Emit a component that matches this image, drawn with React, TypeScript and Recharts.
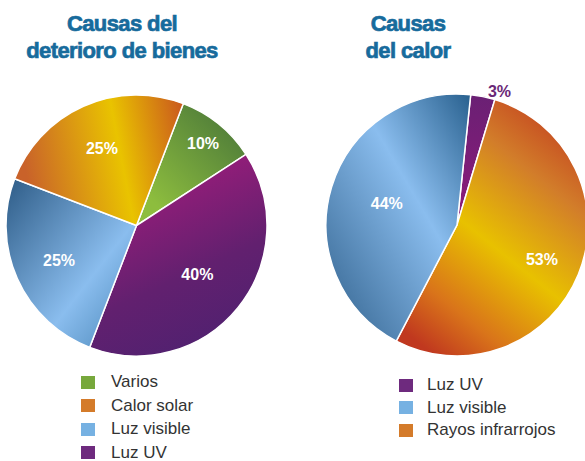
import { PieChart, Pie, Cell } from "recharts";

// ---------------------------------------------------------------------------
// Data
// ---------------------------------------------------------------------------

const leftTitle = ["Causas del", "deterioro de bienes"];
const rightTitle = ["Causas", "del calor"];

// slices listed clockwise, starting at the top
const leftNames = ["Varios", "Luz UV", "Luz visible", "Calor solar"];
const leftValues = [10, 40, 25, 25];

const rightNames = ["Luz UV", "Rayos infrarrojos", "Luz visible"];
const rightValues = [3, 53, 44];

const leftLegend = ["Varios", "Calor solar", "Luz visible", "Luz UV"];
const rightLegend = ["Luz UV", "Luz visible", "Rayos infrarrojos"];

// ---------------------------------------------------------------------------
// Styling
// ---------------------------------------------------------------------------

const FONT = "'Liberation Sans', Arial, Helvetica, sans-serif";
const TITLE_COLOR = "#176b9c";

const SWATCH: Record<string, string> = {
  Varios: "#77a83c",
  "Calor solar": "#d47b2a",
  "Luz visible": "#76b1e2",
  "Luz UV": "#6e2a7e",
  "Rayos infrarrojos": "#d47b2a",
};

// how far out the percentage sits, as a share of the radius
const leftLabelRadius: Record<string, number> = {
  Varios: 0.81,
  "Luz UV": 0.6,
  "Luz visible": 0.65,
  "Calor solar": 0.65,
};
const rightLabelRadius: Record<string, number> = {
  "Luz UV": 1.04,
  "Rayos infrarrojos": 0.7,
  "Luz visible": 0.56,
};

const gradId = (side: string, name: string) =>
  `${side}-${name.replace(/\s+/g, "-")}`;

const RAD = Math.PI / 180;

function makeLabel(ratios: Record<string, number>) {
  return (props: any) => {
    const { cx, cy, midAngle, outerRadius, name, value } = props;
    const ratio = ratios[name] ?? 0.65;
    const outside = ratio > 1;
    const r = outerRadius * ratio;
    const x = cx + r * Math.cos(-midAngle * RAD);
    const y = cy + r * Math.sin(-midAngle * RAD);
    return (
      <text
        x={outside ? x + 4 : x}
        y={y}
        fill={outside ? "#6a2877" : "#ffffff"}
        textAnchor={outside ? "start" : "middle"}
        dominantBaseline="central"
        fontSize={16}
        fontWeight="bold"
        fontFamily={FONT}
      >
        {`${value}%`}
      </text>
    );
  };
}

function Title({ lines, center }: { lines: string[]; center: number }) {
  return (
    <div
      style={{
        position: "absolute",
        top: 10,
        left: center - 150,
        width: 300,
        textAlign: "center",
        fontFamily: FONT,
        fontWeight: "bold",
        fontSize: 22,
        lineHeight: "27px",
        letterSpacing: -0.6,
        color: TITLE_COLOR,
        WebkitTextStroke: `0.7px ${TITLE_COLOR}`,
      }}
    >
      {lines.map((l) => (
        <div key={l}>{l}</div>
      ))}
    </div>
  );
}

function LegendBlock({
  items,
  left,
  top,
  step,
  textGap,
}: {
  items: string[];
  left: number;
  top: number;
  step: number;
  textGap: number;
}) {
  return (
    <>
      {items.map((name, i) => (
        <div
          key={name}
          style={{
            position: "absolute",
            left,
            top: top + i * step - 8,
            height: 16,
            lineHeight: "16px",
            display: "flex",
            alignItems: "center",
            fontFamily: FONT,
            fontSize: 17,
            color: "#333333",
            whiteSpace: "nowrap",
          }}
        >
          <span
            style={{
              display: "inline-block",
              width: 14,
              height: 13,
              background: SWATCH[name],
              marginRight: textGap,
            }}
          />
          {name}
        </div>
      ))}
    </>
  );
}

export default function App() {
  const leftData = leftNames.map((name, i) => ({ name, value: leftValues[i] }));
  const rightData = rightNames.map((name, i) => ({ name, value: rightValues[i] }));

  return (
    <div
      style={{
        position: "absolute",
        left: 0,
        top: 0,
        width: 585,
        height: 461,
        background: "#ffffff",
        overflow: "hidden",
      }}
    >
      <PieChart width={585} height={461} margin={{ top: 0, right: 0, bottom: 0, left: 0 }}>
        <defs>
          <linearGradient id={gradId("l", "Varios")} x1="0.9" y1="0.05" x2="0.2" y2="0.85">
            <stop offset="0%" stopColor="#4a7739" />
            <stop offset="100%" stopColor="#8dbd3e" />
          </linearGradient>
          <linearGradient id={gradId("l", "Calor solar")} x1="0" y1="0.15" x2="1" y2="0">
            <stop offset="0%" stopColor="#c9622a" />
            <stop offset="57%" stopColor="#e9c300" />
            <stop offset="100%" stopColor="#c9551e" />
          </linearGradient>
          <linearGradient id={gradId("l", "Luz visible")} x1="0" y1="0" x2="1" y2="1">
            <stop offset="0%" stopColor="#2d5b86" />
            <stop offset="62%" stopColor="#8abdee" />
            <stop offset="100%" stopColor="#4784b6" />
          </linearGradient>
          <linearGradient id={gradId("l", "Luz UV")} x1="0.3" y1="0" x2="0.7" y2="1">
            <stop offset="0%" stopColor="#a71c7d" />
            <stop offset="60%" stopColor="#62206f" />
            <stop offset="100%" stopColor="#4e2170" />
          </linearGradient>

          <linearGradient id={gradId("r", "Luz UV")} x1="0" y1="0" x2="0" y2="1">
            <stop offset="0%" stopColor="#6a2074" />
            <stop offset="100%" stopColor="#8e1a7a" />
          </linearGradient>
          <linearGradient id={gradId("r", "Rayos infrarrojos")} x1="0.8" y1="0" x2="0.2" y2="1">
            <stop offset="0%" stopColor="#c33f1f" />
            <stop offset="25%" stopColor="#d27d2a" />
            <stop offset="55%" stopColor="#e8c100" />
            <stop offset="82%" stopColor="#d9741a" />
            <stop offset="100%" stopColor="#c0381f" />
          </linearGradient>
          <linearGradient id={gradId("r", "Luz visible")} x1="0" y1="1" x2="1" y2="0">
            <stop offset="0%" stopColor="#2f5f8a" />
            <stop offset="60%" stopColor="#8abdee" />
            <stop offset="100%" stopColor="#28608e" />
          </linearGradient>
        </defs>

        <Pie
          data={leftData}
          dataKey="value"
          nameKey="name"
          cx={136.5}
          cy={225.5}
          outerRadius={130.5}
          startAngle={69}
          endAngle={-291}
          stroke="#ffffff"
          strokeWidth={1.5}
          label={makeLabel(leftLabelRadius)}
          labelLine={false}
          isAnimationActive={false}
        >
          {leftData.map((d) => (
            <Cell key={d.name} fill={`url(#${gradId("l", d.name)})`} />
          ))}
        </Pie>

        <Pie
          data={rightData}
          dataKey="value"
          nameKey="name"
          cx={457}
          cy={225}
          outerRadius={131}
          startAngle={84}
          endAngle={-276}
          stroke="#ffffff"
          strokeWidth={1.5}
          label={makeLabel(rightLabelRadius)}
          labelLine={false}
          isAnimationActive={false}
        >
          {rightData.map((d) => (
            <Cell key={d.name} fill={`url(#${gradId("r", d.name)})`} />
          ))}
        </Pie>
      </PieChart>

      <Title lines={leftTitle} center={122} />
      <Title lines={rightTitle} center={408} />

      <LegendBlock items={leftLegend} left={81} top={382} step={23.6} textGap={16} />
      <LegendBlock items={rightLegend} left={399} top={385.3} step={22.4} textGap={14} />
    </div>
  );
}
